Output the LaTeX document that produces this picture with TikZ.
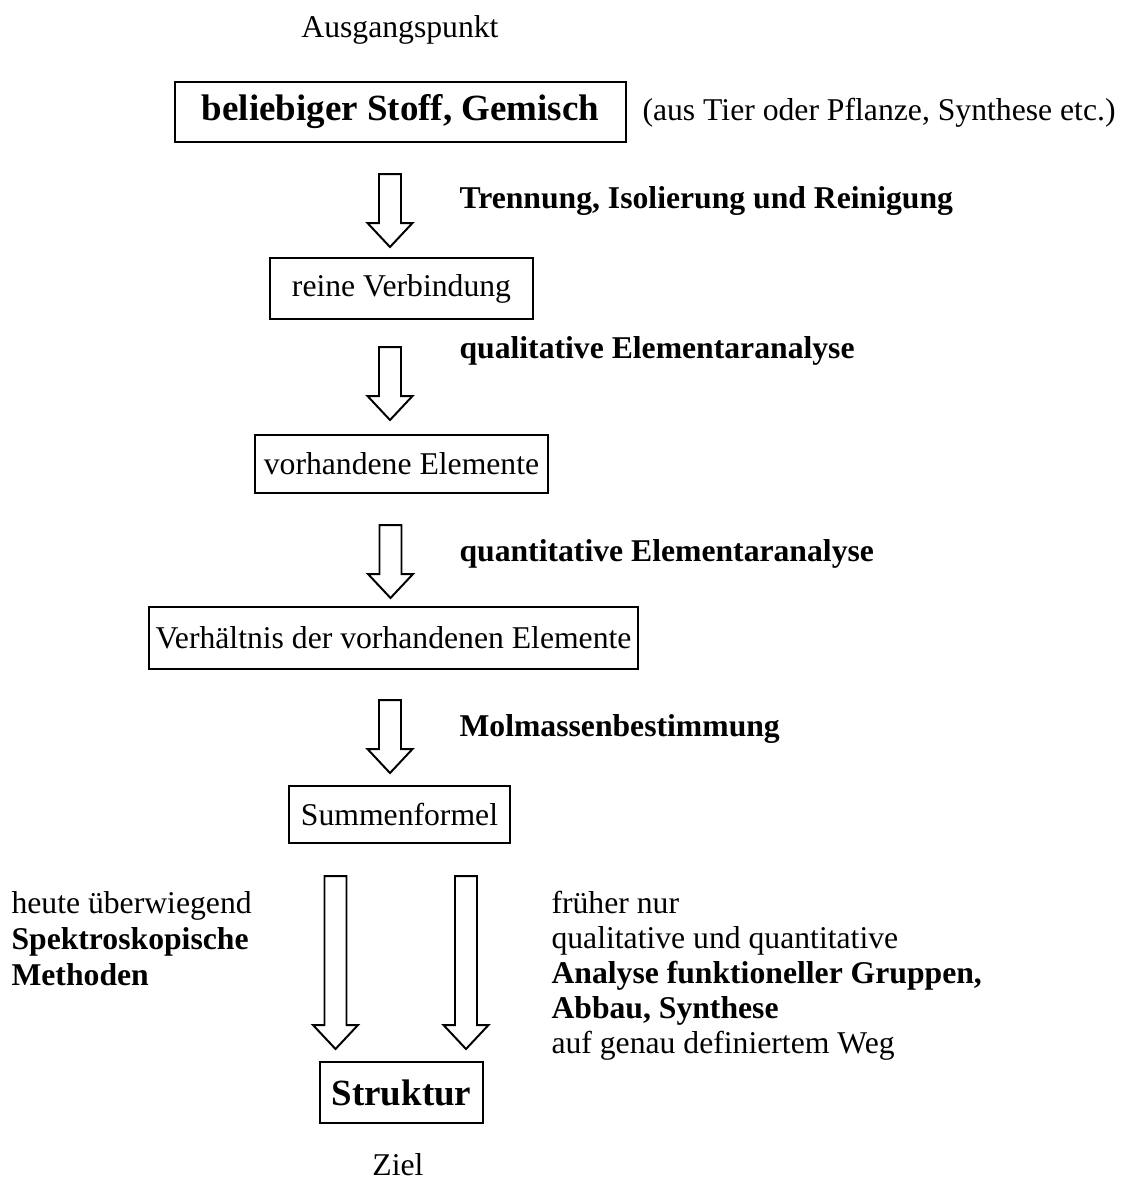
\documentclass[tikz,border=0pt]{standalone}
\usepackage{fontspec}
\setmainfont{Liberation Serif}
\usetikzlibrary{calc}
\tikzset{
  box/.style={draw, line width=0.75pt, inner sep=0pt, font=\fontsize{12}{14}\selectfont},
  bigbox/.style={box, font=\fontsize{14}{16}\selectfont\bfseries},
  txt/.style={inner sep=0pt, font=\fontsize{12}{14}\selectfont},
  btxt/.style={txt, font=\fontsize{12}{14}\selectfont\bfseries},
  blk/.style={draw, line width=0.75pt, line join=miter, fill=white},
}
\newcommand\hollowarrow[2]{%
  \draw[blk] ($(#1)+(-11,0)$) -- ($(#1)+(11,0)$) -- ($(#2)+(11,-24)$) -- ($(#2)+(22.5,-24)$)
    -- (#2) -- ($(#2)+(-22.5,-24)$) -- ($(#2)+(-11,-24)$) -- cycle;}
\begin{document}
\begin{tikzpicture}[x=0.3788pt,y=-0.3788pt]
\useasboundingbox (0,0) rectangle (1123,1198);

% boxes
\node[bigbox, minimum width=170.8pt, minimum height=22.7pt] (n0) at (400.5,112) {beliebiger Stoff, Gemisch};
\node[box, minimum width=99.6pt, minimum height=23.1pt] (n1) at (401.5,288.5) {reine Verbindung};
\node[box, minimum width=111.0pt, minimum height=22.0pt] (n2) at (401.5,464) {vorhandene Elemente};
\node[box, minimum width=185.2pt, minimum height=23.5pt] (n3) at (393.5,638) {Verhältnis der vorhandenen Elemente};
\node[box, minimum width=83.7pt, minimum height=21.6pt] (n4) at (399.5,814.5) {Summenformel};
\node[bigbox, minimum width=61.7pt, minimum height=23.1pt] (n5) at (401.5,1092.5) {Struktur};

% plain texts
\node[txt, anchor=base] (start) at (400,37) {Ausgangspunkt};
\node[txt, anchor=base west] (src) at (642,120) {(aus Tier oder Pflanze, Synthese etc.)};
\node[txt, anchor=base] (goal) at (398,1175) {Ziel};

% step labels
\node[btxt, anchor=base west] (l1) at (459,208) {Trennung, Isolierung und Reinigung};
\node[btxt, anchor=base west] (l2) at (459,358) {qualitative Elementaranalyse};
\node[btxt, anchor=base west] (l3) at (459,561) {quantitative Elementaranalyse};
\node[btxt, anchor=base west] (l4) at (459,736) {Molmassenbestimmung};

% left text
\node[txt, anchor=base west] (le1) at (11,913) {heute überwiegend};
\node[btxt, anchor=base west] (le2) at (11,949) {Spektroskopische};
\node[btxt, anchor=base west] (le3) at (11,985) {Methoden};

% right text
\node[txt, anchor=base west] (ri1) at (551,913) {früher nur};
\node[txt, anchor=base west] (ri2) at (551,948) {qualitative und quantitative};
\node[btxt, anchor=base west] (ri3) at (551,983) {Analyse funktioneller Gruppen,};
\node[btxt, anchor=base west] (ri4) at (551,1018) {Abbau, Synthese};
\node[txt, anchor=base west] (ri5) at (551,1053) {auf genau definiertem Weg};

% arrow end points
\coordinate (a1t) at (390,174);  \coordinate (a1b) at (390,247);
\coordinate (a2t) at (390,347);  \coordinate (a2b) at (390,420);
\coordinate (a3t) at (390.5,525);  \coordinate (a3b) at (390.5,598);
\coordinate (a4t) at (390,700);  \coordinate (a4b) at (390,773);
\coordinate (a5t) at (335.5,876); \coordinate (a5b) at (335.5,1049);
\coordinate (a6t) at (466,876);  \coordinate (a6b) at (466,1049);

\hollowarrow{a1t}{a1b}
\hollowarrow{a2t}{a2b}
\hollowarrow{a3t}{a3b}
\hollowarrow{a4t}{a4b}
\hollowarrow{a5t}{a5b}
\hollowarrow{a6t}{a6b}
\end{tikzpicture}
\end{document}
